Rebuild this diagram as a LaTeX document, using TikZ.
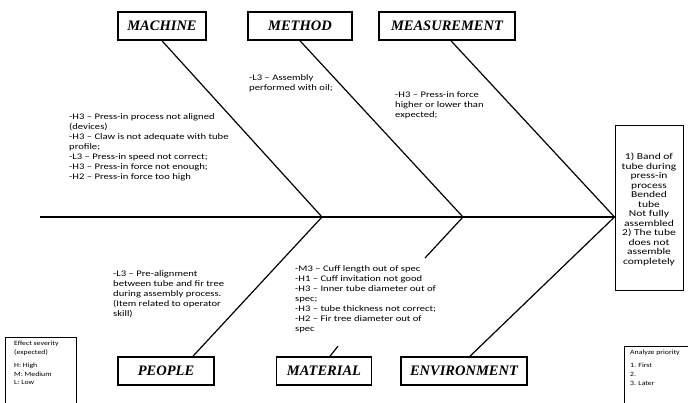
\documentclass[tikz,border=0pt]{standalone}
\usepackage{fontspec}
\setmainfont{Liberation Serif}
\newfontfamily\notefont[FakeStretch=1.25]{Carlito}
\newfontfamily\efffont[FakeStretch=1.28]{Carlito}
\newfontfamily\legfont[FakeStretch=1.2]{Carlito}
\begin{document}
\begin{tikzpicture}[x=1pt,y=-1pt,
  catbox/.style={draw, line width=1.6pt, inner sep=0pt, minimum height=28pt,
    font=\bfseries\itshape\fontsize{14.5}{16}\selectfont},
  bone/.style={line width=1.2pt},
  note/.style={font=\notefont\fontsize{8.5}{10}\selectfont, align=left, inner sep=0pt, anchor=north west},
  legnote/.style={font=\legfont\fontsize{6.5}{8.8}\selectfont, align=left, inner sep=0pt, anchor=north west},
  legend/.style={draw, line width=0.5pt, inner sep=0pt}]
\useasboundingbox (0,0) rectangle (688,403);
% category boxes
\node[catbox, minimum width=88pt]  (machine) at (162,26) {MACHINE};
\node[catbox, minimum width=104pt] (method)  at (300,26) {METHOD};
\node[catbox, minimum width=136pt] (meas)    at (447,26) {MEASUREMENT};
\node[catbox, minimum width=96pt]  (people)  at (166,371) {PEOPLE};
\node[catbox, minimum width=95pt]  (material) at (324,371) {MATERIAL};
\node[catbox, minimum width=126pt] (env)     at (464,371) {ENVIRONMENT};
% effect box
\node[draw, line width=1pt, minimum width=68pt, minimum height=165pt, inner sep=0pt] (effect) at (649,208) {};
\node[font=\efffont\fontsize{9}{9.5}\selectfont, align=center, inner sep=0pt, anchor=north] (efftext) at (649,153)
  {1) Band of\\tube during\\press-in\\process\\Bended\\tube\\Not fully\\assembled\\2) The tube\\does not\\assemble\\completely};
% spine
\coordinate (s) at (40,217);
\coordinate (j1) at (322,217);
\coordinate (j2) at (463,217);
\coordinate (j3) at (effect.west |- s);
\draw[line width=1.5pt] (s) -- (j3);
% bones
\draw[bone] (machine.south) -- (j1);
\draw[bone] (method.south) -- (j2);
\draw[bone] ([xshift=4pt]meas.south) -- (j3);
\draw[bone] (j1) -- ([xshift=27pt]people.north);
\coordinate (m1) at (425,258);
\draw[bone] (j2) -- (m1);
\draw[bone] ([xshift=6pt]material.north) -- ++(8,-10) coordinate (m2);
\draw[bone] (j3) -- ([xshift=6pt]env.north);
% cause texts
\node[note] (tmachine) at (69,113) {-H3 – Press-in process not aligned\\(devices)\\-H3 – Claw is not adequate with tube\\profile;\\-L3 – Press-in speed not correct;\\-H3 – Press-in force not enough;\\-H2 – Press-in force too high};
\node[note] (tmethod) at (249,74) {-L3 – Assembly\\performed with oil;};
\node[note] (tmeas) at (395,91) {-H3 – Press-in force\\higher or lower than\\expected;};
\node[note] (tpeople) at (113,270) {-L3 – Pre-alignment\\between tube and fir tree\\during assembly process.\\(Item related to operator\\skill)};
\node[note] (tmaterial) at (295,265) {-M3 – Cuff length out of spec\\-H1 – Cuff invitation not good\\-H3 – Inner tube diameter out of\\spec;\\-H3 – tube thickness not correct;\\-H2 – Fir tree diameter out of\\spec};
% legends
\draw[legend] (5,337) rectangle (76,410);
\node[legnote] (tsev) at (14,341) {Effect severity\\ (expected)\\[4pt]H: High\\M: Medium\\L: Low};
\draw[legend] (624,346) rectangle (700,410);
\node[legnote] (tprio) at (630,350) {Analyze priority\\[4pt]1. First\\2.\\3. Later};
\end{tikzpicture}
\end{document}
